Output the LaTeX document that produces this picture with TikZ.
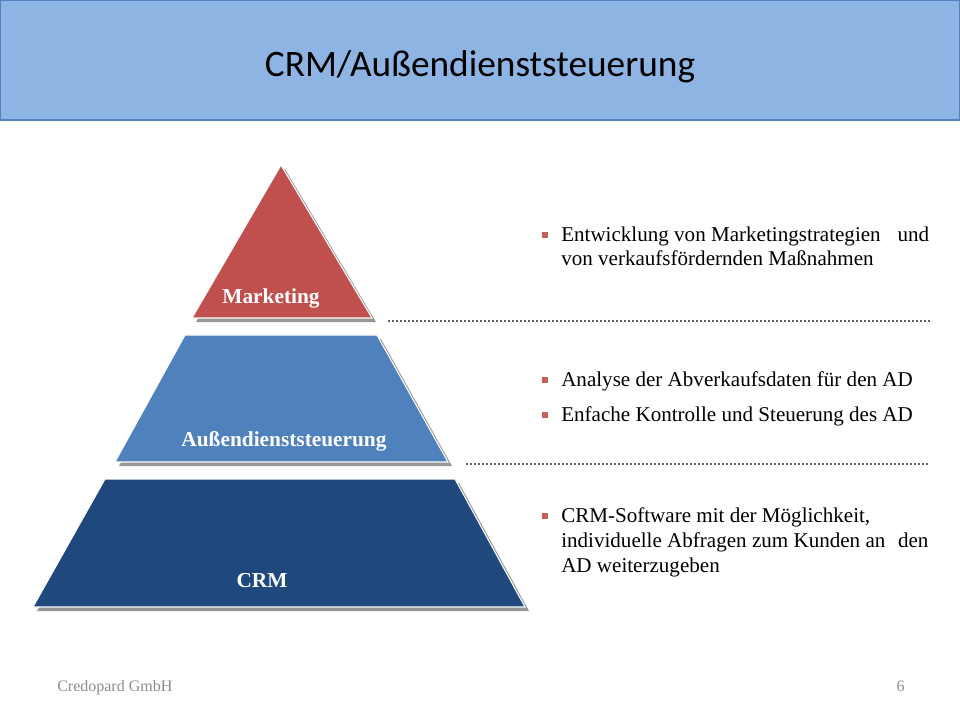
\documentclass[tikz,border=0pt]{standalone}
\usepackage{fontspec}
\setmainfont{Liberation Serif}
\newfontfamily\titlefont{Carlito}
\usetikzlibrary{positioning}

\definecolor{headerblue}{RGB}{141,180,226}
\definecolor{headerline}{RGB}{84,130,190}
\definecolor{tierred}{RGB}{192,80,77}
\definecolor{tierblue}{RGB}{79,129,189}
\definecolor{tierdark}{RGB}{31,73,125}
\definecolor{shadowgray}{RGB}{150,150,150}
\definecolor{dotgray}{RGB}{95,95,95}
\definecolor{footgray}{RGB}{140,140,140}
\definecolor{bulletred}{RGB}{200,95,92}

\begin{document}
\begin{tikzpicture}[
    x=0.75pt, y=-0.75pt,
    tier/.style={draw=white, line width=0.8pt},
    tiershadow/.style={fill=shadowgray, shift={(4,4)}},
    tierlabel/.style={anchor=base, text=white, inner sep=0pt, font=\bfseries\fontsize{16}{18}\selectfont},
    bulletsq/.style={fill=bulletred, minimum size=4pt, inner sep=0pt},
    itemtext/.style={anchor=base west, align=left, inner sep=0pt, font=\fontsize{15.8}{18.6}\selectfont},
    separator/.style={dotgray, line width=1.5pt, dash pattern=on 1.5pt off 1.5pt},
    footer/.style={text=footgray, inner sep=0pt, font=\fontsize{12}{14}\selectfont}
]
  \useasboundingbox (0,0) rectangle (960,720);

  % Header
  \filldraw[fill=headerblue, draw=headerline, line width=1pt] (0,0.7) rectangle (960,120);
  \node (title) [anchor=base, inner sep=0pt, font=\titlefont\fontsize{28}{32}\selectfont] at (480,77) {CRM/Außendienststeuerung};

  % Pyramid
  \fill[tiershadow] (281,165) -- (372,318) -- (192,318) -- cycle;
  \filldraw[tier, fill=tierred] (281,165) -- (372,318) -- (192,318) -- cycle;
  \fill[tiershadow] (185,335) -- (377,335) -- (448,462) -- (115,462) -- cycle;
  \filldraw[tier, fill=tierblue] (185,335) -- (377,335) -- (448,462) -- (115,462) -- cycle;
  \fill[tiershadow] (105,479) -- (455,479) -- (525,607) -- (33,607) -- cycle;
  \filldraw[tier, fill=tierdark] (105,479) -- (455,479) -- (525,607) -- (33,607) -- cycle;

  \node (marketing) [tierlabel] at (271,304) {Marketing};
  \node (ad) [tierlabel] at (284,446) {Außendienststeuerung};
  \node (crm) [tierlabel] at (262,587) {CRM};

  % Separators
  \coordinate (sepA1) at (388,321);
  \coordinate (sepA2) at (930,321);
  \coordinate (sepB1) at (466,464);
  \coordinate (sepB2) at (930,464);
  \draw [separator] (sepA1) -- (sepA2);
  \draw [separator] (sepB1) -- (sepB2);

  % Bullet texts (base = last line)
  \node (item1) [itemtext] at (561,266) {Entwicklung von Marketingstrategien\hspace{0.8em}und\\von verkaufsfördernden Maßnahmen};
  \node (item2) [itemtext] at (561,386) {Analyse der Abverkaufsdaten für den AD};
  \node (item3) [itemtext] at (561,421) {Enfache Kontrolle und Steuerung des AD};
  \node (item4) [itemtext] at (561,572) {CRM-Software mit der Möglichkeit,\\individuelle Abfragen zum Kunden an\hspace{0.6em}den\\AD weiterzugeben};

  \node (bul1) [bulletsq] at (545,235) {};
  \node (bul2) [bulletsq] at (545,380) {};
  \node (bul3) [bulletsq] at (545,415) {};
  \node (bul4) [bulletsq] at (545,516) {};

  % Footer
  \node (company) [footer, anchor=base west] at (57,691) {Credopard GmbH};
  \node (pagenum) [footer, anchor=base east] at (905,691) {6};

\end{tikzpicture}
\end{document}
